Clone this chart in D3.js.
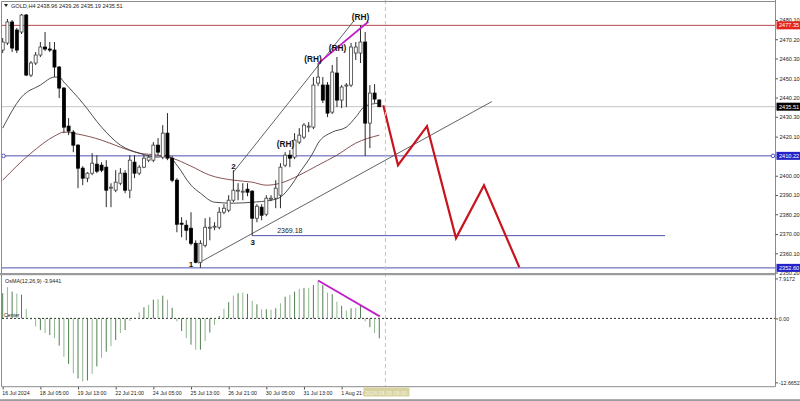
<!DOCTYPE html>
<html><head><meta charset="utf-8">
<script src="https://cdn.jsdelivr.net/npm/d3@7"></script>
<style>body{margin:0;background:#fff;} svg{display:block;font-family:"Liberation Sans",Arial,sans-serif;}</style>
</head><body><svg id="c" width="800" height="401"></svg>
<script>
// ---------- DATA ----------
const symbolTitle = "GOLD,H4  2438.96 2439.26 2435.19 2435.51";
const osmaTitle = "OsMA(12,26,9) -3.9441";
const opens  = [2464.65,2468.26,2479.07,2474.95,2473.92,2482.67,2451.78,2457.96,2462.08,2466.20,2465.17,2464.65,2455.90,2445.08,2425.52,2422.43,2415.73,2403.89,2398.74,2401.31,2405.95,2405.43,2404.40,2393.59,2392.56,2396.16,2401.31,2392.56,2406.98,2401.31,2404.40,2408.01,2408.01,2415.73,2409.55,2421.91,2409.04,2397.71,2375.57,2374.54,2372.99,2365.25,2355.47,2364.22,2372.99,2373.51,2373.51,2381.23,2382.26,2387.41,2392.05,2391.53,2393.07,2392.05,2378.14,2383.81,2380.20,2387.93,2388.44,2389.99,2405.43,2410.58,2409.55,2417.28,2419.85,2425.00,2425.00,2447.66,2446.63,2446.63,2432.73,2452.81,2438.91,2446.11,2446.63,2463.11,2463.11,2468.77,2427.06,2442.51,2438.96];
const highs  = [2470.83,2480.61,2480.10,2475.98,2483.19,2483.19,2458.99,2463.62,2468.77,2473.92,2468.77,2468.77,2456.41,2445.60,2429.64,2423.46,2416.25,2404.92,2401.83,2411.61,2410.58,2406.98,2408.01,2396.16,2402.86,2403.89,2402.86,2410.58,2410.58,2405.43,2410.58,2410.58,2417.28,2419.34,2426.03,2432.21,2410.07,2398.74,2378.66,2377.11,2381.23,2366.79,2366.79,2378.14,2378.66,2376.08,2383.81,2385.35,2389.99,2402.86,2396.16,2396.16,2396.16,2392.56,2385.35,2385.35,2389.99,2389.99,2397.71,2406.46,2412.13,2413.16,2421.91,2424.49,2427.06,2427.58,2450.75,2457.96,2450.75,2448.17,2456.93,2461.05,2446.63,2447.66,2468.26,2468.77,2477.35,2473.92,2446.63,2447.14,2439.26];
const lows   = [2463.11,2467.23,2463.62,2463.11,2472.89,2451.26,2450.75,2456.93,2461.05,2464.14,2463.62,2450.75,2439.94,2421.91,2420.88,2412.13,2393.59,2395.13,2396.68,2400.28,2401.31,2401.83,2383.81,2383.81,2391.53,2395.13,2391.02,2388.44,2398.74,2400.28,2403.89,2406.98,2406.98,2410.58,2408.52,2408.01,2396.68,2370.93,2368.34,2366.79,2364.22,2354.95,2352.60,2363.19,2366.79,2371.96,2372.48,2380.20,2381.23,2386.38,2387.41,2387.41,2389.47,2369.18,2376.08,2377.11,2379.17,2386.90,2383.29,2383.29,2404.40,2404.40,2408.52,2416.25,2418.82,2422.43,2423.97,2446.11,2437.36,2430.15,2431.70,2435.30,2434.79,2435.30,2445.60,2459.50,2457.96,2410.22,2414.19,2437.36,2435.19];
const closes = [2468.77,2479.07,2465.68,2464.65,2482.67,2451.78,2457.96,2462.08,2466.20,2465.17,2464.65,2455.90,2445.08,2425.00,2422.94,2415.73,2403.89,2398.74,2401.31,2406.46,2402.34,2402.86,2392.56,2394.10,2396.68,2401.31,2392.56,2408.01,2401.31,2404.40,2409.04,2409.55,2415.73,2412.13,2421.91,2409.04,2397.71,2375.05,2375.05,2371.96,2365.25,2355.47,2365.25,2373.51,2373.51,2374.02,2381.23,2383.29,2387.41,2392.56,2392.56,2392.05,2391.53,2378.14,2384.32,2379.69,2388.44,2388.44,2393.59,2404.40,2410.58,2409.04,2418.31,2420.88,2426.03,2425.52,2446.63,2450.75,2438.91,2432.21,2453.32,2438.91,2445.60,2446.63,2466.20,2466.20,2468.77,2427.06,2442.51,2439.42,2435.51];
const osmaValues = [5.0,6.2,5.3,4.9,4.7,1.85,-0.2,-1.6,-2.3,-2.9,-3.3,-3.9,-5.4,-7.6,-9.0,-10.9,-11.9,-12.5,-12.3,-11.0,-9.5,-7.8,-6.6,-5.5,-4.3,-2.9,-2.3,-0.5,0.1,1.2,2.2,2.7,3.7,3.8,4.5,3.7,2.1,-0.6,-2.5,-3.9,-5.2,-6.2,-6.2,-4.5,-2.8,-1.3,0.5,1.9,3.2,4.5,5.0,5.1,4.85,3.5,2.8,1.8,1.8,1.7,2.0,3.0,4.3,4.65,5.3,5.85,6.0,6.0,6.6,7.4,6.6,5.1,4.8,3.3,2.5,1.55,2.0,2.1,2.5,-0.6,-1.75,-2.9,-3.9441];
const maFastIdx = [0,4,8,11,12,13,17,21,25,29,33,35,37,40,42,45,49,53,57,59,61,63,66,67,70,73,75,77,80];
const maFastVal = [2424.49,2440.45,2446.63,2450.75,2450.75,2448.17,2437.36,2425.00,2415.73,2411.61,2409.55,2410.58,2405.43,2395.13,2391.02,2386.38,2385.87,2386.38,2387.41,2388.96,2394.10,2401.31,2412.13,2416.76,2422.43,2425.00,2430.15,2435.82,2437.36];
const maSlowIdx = [0,6,11,13,16,21,25,29,33,36,40,44,49,53,56,59,63,67,71,75,80];
const maSlowVal = [2397.71,2411.61,2420.37,2422.43,2421.40,2418.31,2414.70,2411.61,2410.58,2409.04,2404.92,2400.28,2397.71,2396.68,2395.13,2396.16,2400.28,2405.43,2410.58,2416.76,2420.88];
const priceTickValues = [2480.10,2470.20,2460.30,2450.10,2440.20,2430.30,2420.10,2400.00,2390.10,2380.20,2370.00,2360.10,2350.20];
const osmaTickValues = [7.9172,0,-12.6652];
const osmaTickLabels = ["7.9172","0.00","-12.6652"];
const timeLabelIdx = [0,8,16,24,32,40,48,56,64,72];
const timeLabels = ["16 Jul 2024","18 Jul 05:00","19 Jul 13:00","22 Jul 21:00","24 Jul 05:00","25 Jul 13:00","26 Jul 21:00","30 Jul 05:00","31 Jul 13:00","1 Aug 21:00"];
const cursorLabel = "2024.08.05 09:00";
const cursorIdx = 81.3;
const resistancePrice = 2477.35;
const bidPrice = 2435.51;
const supportPrices = [2410.22, 2352.60];
const level3 = {price: 2369.18, fromIdx: 53, toIdx: 140.7, label: "2369.18"};
const lowerTrendIdx = [41.5, 103.9], lowerTrendPrice = [2354.95, 2438.13];
const upperTrendIdx = [49, 74.4], upperTrendPrice = [2401.83, 2479.07];
const rhLineIdx = [67.04, 77.66], rhLinePrice = [2457.8, 2479.2];
const osmaDivIdx = [67, 80.1], osmaDivVal = [7.5, 0.4];
const forecastIdx = [80.85, 83.97, 90.13, 96.29, 102.24, 109.74];
const forecastPrice = [2436.3, 2405.4, 2425.5, 2367.9, 2395.1, 2352.9];
const markText = ["(RH)","(RH)","(RH)","(RH)","2","3","1"];
const markIdx = [76, 71.1, 65.9, 60.1, 49, 53.1, 40];
const markPrice = [2481.39, 2465.42, 2459.5, 2415.73, 2404.66, 2365.25, 2354.2];

// ---------- SCALES ----------
const svg = d3.select("#c");
const x = d3.scaleLinear().domain([0, 80]).range([2.7, 379.3]);
const y = d3.scaleLinear().domain([2360.1, 2480.1]).range([253.3, 20]);
const yo = d3.scaleLinear().domain([-12.6652, 7.9172]).range([382.36, 278.42]);
const RIGHT = 775.5;
const cursorBoxX = x(cursorIdx) - 22;

svg.append("rect").attr("width",800).attr("height",401).attr("fill","#fff");

const defs = svg.append("defs");
defs.append("clipPath").attr("id","cm").append("rect").attr("x",2).attr("y",2).attr("width",RIGHT-2).attr("height",271);
const mg = svg.append("g").attr("clip-path","url(#cm)");

// horizontal levels
mg.append("line").attr("x1",2).attr("x2",RIGHT).attr("y1",y(bidPrice)).attr("y2",y(bidPrice)).attr("stroke","#c4c4c4").attr("stroke-width",1);
mg.append("line").attr("x1",2).attr("x2",RIGHT).attr("y1",y(resistancePrice)).attr("y2",y(resistancePrice)).attr("stroke","#b24a4a").attr("stroke-width",1);
supportPrices.forEach(p=>{
  mg.append("line").attr("x1",2).attr("x2",RIGHT).attr("y1",y(p)).attr("y2",y(p)).attr("stroke","#5050b4").attr("stroke-width",1);
});
mg.append("circle").attr("cx",3.5).attr("cy",y(supportPrices[0])).attr("r",1.8).attr("fill","#fff").attr("stroke","#5050b4");
mg.append("circle").attr("cx",RIGHT-2.5).attr("cy",y(supportPrices[0])).attr("r",1.8).attr("fill","#fff").attr("stroke","#5050b4");
mg.append("line").attr("x1",x(level3.fromIdx)).attr("x2",x(level3.toIdx)).attr("y1",y(level3.price)).attr("y2",y(level3.price)).attr("stroke","#5050b4").attr("stroke-width",1);

// moving averages
const lineGen = d3.line().curve(d3.curveMonotoneX);
mg.append("path").attr("d", lineGen(maSlowIdx.map((d,k)=>[x(d), y(maSlowVal[k])]))).attr("fill","none").attr("stroke","#7a4040").attr("stroke-width",0.9);
mg.append("path").attr("d", lineGen(maFastIdx.map((d,k)=>[x(d), y(maFastVal[k])]))).attr("fill","none").attr("stroke","#3a3a3a").attr("stroke-width",0.9);

// trend lines
mg.append("line").attr("x1",x(lowerTrendIdx[0])).attr("y1",y(lowerTrendPrice[0])).attr("x2",x(lowerTrendIdx[1])).attr("y2",y(lowerTrendPrice[1])).attr("stroke","#505058").attr("stroke-width",0.9);
mg.append("line").attr("x1",x(upperTrendIdx[0])).attr("y1",y(upperTrendPrice[0])).attr("x2",x(upperTrendIdx[1])).attr("y2",y(upperTrendPrice[1])).attr("stroke","#505058").attr("stroke-width",0.9);

// candles
const candles = d3.range(opens.length).map(i=>({i,o:opens[i],h:highs[i],l:lows[i],c:closes[i]}));
const cg = mg.append("g");
cg.selectAll("line.w").data(candles).join("line").attr("class","w")
  .attr("x1",d=>x(d.i)).attr("x2",d=>x(d.i)).attr("y1",d=>y(d.h)).attr("y2",d=>y(d.l))
  .attr("stroke","#2a2a2a").attr("stroke-width",1);
cg.selectAll("rect.b").data(candles).join("rect").attr("class","b")
  .attr("x",d=>x(d.i)-1.5).attr("width",3)
  .attr("y",d=>y(Math.max(d.o,d.c))).attr("height",d=>Math.max(0.8, Math.abs(y(d.o)-y(d.c))))
  .attr("fill",d=>d.c>=d.o?"#fff":"#000").attr("stroke",d=>d.c>=d.o?"#404040":"#000").attr("stroke-width",0.8);

// magenta RH line
mg.append("line").attr("x1",x(rhLineIdx[0])).attr("y1",y(rhLinePrice[0])).attr("x2",x(rhLineIdx[1])).attr("y2",y(rhLinePrice[1])).attr("stroke","#c020c8").attr("stroke-width",1.8);

// red forecast zigzag
mg.append("path").attr("d", d3.line()(forecastIdx.map((d,k)=>[x(d), y(forecastPrice[k])]))).attr("fill","none").attr("stroke","#c8141e").attr("stroke-width",2.2).attr("stroke-linejoin","miter");

// labels
mg.selectAll("text.m").data(markText).join("text").attr("class","m")
  .attr("x",(d,k)=>x(markIdx[k])).attr("y",(d,k)=>y(markPrice[k]))
  .attr("text-anchor","middle").attr("dominant-baseline","middle")
  .attr("font-size",(d)=>d.length>1?8.3:8).attr("font-weight","bold").attr("fill","#111").text(d=>d);
mg.append("text").attr("x",x(58.3)).attr("y",y(level3.price)-2.4).attr("font-size",7).attr("fill","#222").text(level3.label);

// header
svg.append("path").attr("d","M4,4 L8,4 L6,7 Z").attr("fill","#222");
svg.append("text").attr("x",11).attr("y",8).attr("font-size",5.6).attr("fill","#222").text(symbolTitle);

// cursor dashed vertical line
svg.append("line").attr("x1",x(cursorIdx)).attr("x2",x(cursorIdx)).attr("y1",0).attr("y2",387).attr("stroke","#c9c9a6").attr("stroke-width",1).attr("stroke-dasharray","4,3");

// ---------- OsMA panel ----------
const og = svg.append("g");
og.append("line").attr("x1",2).attr("x2",RIGHT).attr("y1",yo(0)).attr("y2",yo(0)).attr("stroke","#111").attr("stroke-width",0.9).attr("stroke-dasharray","2,2");
og.selectAll("line.h").data(osmaValues).join("line").attr("class","h")
  .attr("x1",(d,i)=>x(i)).attr("x2",(d,i)=>x(i)).attr("y1",yo(0)).attr("y2",d=>yo(d))
  .attr("stroke",(d,i)=>i%2?"#8fb88f":"#4f7f4f").attr("stroke-width",1);
og.append("line").attr("x1",x(osmaDivIdx[0])).attr("y1",yo(osmaDivVal[0])).attr("x2",x(osmaDivIdx[1])).attr("y2",yo(osmaDivVal[1])).attr("stroke","#c020c8").attr("stroke-width",1.8);
og.append("text").attr("x",5).attr("y",283).attr("font-size",5.4).attr("fill","#222").text(osmaTitle);
og.append("text").attr("x",4).attr("y",316.5).attr("font-size",5.2).attr("fill","#222").text("Center");

// ---------- frames ----------
const fr = svg.append("g").attr("fill","none").attr("stroke","#8c8c8c");
fr.append("line").attr("x1",1.5).attr("x2",RIGHT).attr("y1",1.5).attr("y2",1.5);
fr.append("line").attr("x1",1.5).attr("x2",1.5).attr("y1",1.5).attr("y2",386.7);
fr.append("line").attr("x1",RIGHT).attr("x2",RIGHT).attr("y1",0).attr("y2",386.7);
fr.append("line").attr("x1",1.5).attr("x2",RIGHT).attr("y1",386.7).attr("y2",386.7);
svg.append("rect").attr("x",0).attr("y",273).attr("width",RIGHT+0.5).attr("height",2.2).attr("fill","#9a9a9a");
svg.append("rect").attr("x",0).attr("y",399.2).attr("width",800).attr("height",1.8).attr("fill","#9a9a9a");

// ---------- axes ----------
const pa = svg.append("g").attr("transform",`translate(${RIGHT},0)`)
  .call(d3.axisRight(y).tickValues(priceTickValues).tickFormat(d3.format(".2f")).tickSize(2.5).tickPadding(1.5));
pa.select(".domain").remove();
pa.selectAll("text").attr("font-size",5.6).attr("fill","#222").attr("font-family","Liberation Sans");
pa.selectAll("line").attr("stroke","#555");

const oa = svg.append("g").attr("transform",`translate(${RIGHT},0)`)
  .call(d3.axisRight(yo).tickValues(osmaTickValues).tickFormat((d,k)=>osmaTickLabels[k]).tickSize(2.5).tickPadding(0.8));
oa.select(".domain").remove();
oa.selectAll("text").attr("font-size",5.3).attr("fill","#222").attr("font-family","Liberation Sans");
oa.selectAll("line").attr("stroke","#555");

const ta = svg.append("g").attr("transform","translate(0,387)")
  .call(d3.axisBottom(x).tickValues(timeLabelIdx).tickFormat((d,k)=>timeLabels[k]).tickSize(2.5).tickPadding(1.8));
ta.select(".domain").remove();
ta.selectAll("text").attr("font-size",5.3).attr("fill","#222").attr("text-anchor","start").attr("font-family","Liberation Sans").attr("dx",-1);
ta.selectAll("line").attr("stroke","#555");
// the cursor box covers the end of the last label, as in the terminal
const lastTx = x(timeLabelIdx[timeLabelIdx.length-1]);
defs.append("clipPath").attr("id","ct2").append("rect").attr("x",-10).attr("y",-5).attr("width",cursorBoxX - lastTx + 10).attr("height",20);
ta.selectAll(".tick").filter((d,k)=>k===timeLabelIdx.length-1).select("text").attr("clip-path","url(#ct2)");

// cursor time label
svg.append("rect").attr("x",cursorBoxX).attr("y",387.5).attr("width",46).attr("height",9).attr("fill","#d8d29e");
svg.append("text").attr("x",cursorBoxX+1.5).attr("y",394.5).attr("font-size",5.4).attr("fill","#f6f6ea").text(cursorLabel);

// price tags
const tagValues = [resistancePrice, bidPrice, supportPrices[0], supportPrices[1]];
const tagColors = ["#e5231b","#000","#2323c8","#2323c8"];
tagValues.forEach((v,k)=>{
  svg.append("rect").attr("x",RIGHT+1).attr("y",y(v)-4).attr("width",800-RIGHT-1).attr("height",8).attr("fill",tagColors[k]);
  svg.append("text").attr("x",RIGHT+3.5).attr("y",y(v)+2).attr("font-size",5.6).attr("fill","#fff").text(d3.format(".2f")(v));
});
</script></body></html>
